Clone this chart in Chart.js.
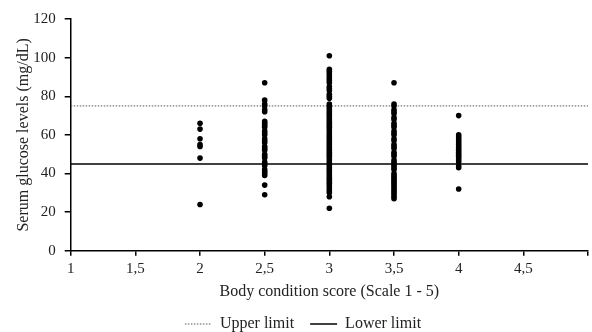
<!DOCTYPE html>
<html lang="en">
<head>
    <meta charset="UTF-8" />
    <title>Serum glucose vs body condition score</title>
    <script src="https://cdn.jsdelivr.net/npm/chart.js"></script>
    <style>
        body { margin: 0; background: #fff; }
        #wrap { width: 592px; height: 332px; }
    </style>
</head>
<body>
    <div id="wrap"><canvas id="glucoseChart"></canvas></div>

    <script>
        // body condition score columns and the glucose readings in each
        const bcsScores = [2, 2.5, 3, 3.5, 4];
        const glucoseBcs2 = [66, 63, 58, 55, 54, 48, 24];
        const glucoseBcs25 = [87, 78, 76, 75, 73, 72, 67, 66, 65, 64, 62, 61, 60, 58, 57, 56, 54, 53, 52, 50, 49, 48, 46, 45, 44, 42, 41, 40, 39, 34, 29];
        const glucoseBcs3 = [101, 94, 93, 92, 91, 90, 89, 88, 87, 85, 84, 83, 81, 80, 79, 76, 75, 74, 73, 72, 71, 70, 69, 68, 67, 66, 65, 64, 63, 62, 61, 60, 59, 58, 57, 56, 55, 54, 53, 52, 51, 50, 49, 48, 47, 46, 45, 44, 43, 42, 41, 40, 39, 38, 37, 36, 35, 34, 33, 32, 31, 30, 28, 22];
        const glucoseBcs35 = [87, 76, 75, 73, 72, 71, 69, 68, 66, 65, 64, 62, 61, 60, 58, 57, 55, 54, 53, 51, 50, 49, 47, 46, 45, 44, 43, 42, 40, 39, 38, 37, 36, 35, 34, 33, 32, 31, 30, 29, 28, 27];
        const glucoseBcs4 = [70, 60, 59, 58, 57, 56, 55, 54, 53, 52, 51, 50, 49, 48, 47, 46, 44, 43, 32];
        const glucoseByScore = [glucoseBcs2, glucoseBcs25, glucoseBcs3, glucoseBcs35, glucoseBcs4];

        // reference limits
        const upperLimit = 75;
        const lowerLimit = 45;
        const xRange = [1, 5];
        const xTicks = [1, 1.5, 2, 2.5, 3, 3.5, 4, 4.5];
        const yRange = [0, 120];

        const points = [];
        bcsScores.forEach((score, i) => {
            glucoseByScore[i].forEach(v => points.push({ x: score, y: v }));
        });

        const serif = "'Liberation Serif', 'DejaVu Serif', serif";
        Chart.defaults.font.family = serif;
        Chart.defaults.color = '#222';

        new Chart(document.getElementById('glucoseChart'), {
            type: 'scatter',
            data: {
                datasets: [
                    {
                        label: 'Glucose',
                        data: points,
                        backgroundColor: '#000',
                        borderWidth: 0,
                        pointRadius: 2.8,
                        order: 1
                    },
                    {
                        type: 'line',
                        label: 'Upper limit',
                        data: xRange.map(x => ({ x: x, y: upperLimit })),
                        borderColor: '#555',
                        borderWidth: 1,
                        borderDash: [1.5, 1.5],
                        pointRadius: 0,
                        order: 2
                    },
                    {
                        type: 'line',
                        label: 'Lower limit',
                        data: xRange.map(x => ({ x: x, y: lowerLimit })),
                        borderColor: '#000',
                        borderWidth: 1.5,
                        pointRadius: 0,
                        order: 2
                    }
                ]
            },
            options: {
                responsive: true,
                maintainAspectRatio: false,
                animation: false,
                layout: { padding: { top: 19, right: 0, left: 14, bottom: -10 } },
                plugins: {
                    tooltip: { enabled: false },
                    legend: {
                        position: 'bottom',
                        labels: {
                            filter: item => item.text !== 'Glucose',
                            usePointStyle: true,
                            pointStyle: 'line',
                            pointStyleWidth: 27,
                            boxHeight: 10,
                            padding: 8,
                            color: '#222',
                            font: { size: 16 },
                            // trailing spaces widen the gap between the two entries
                            generateLabels: chart => chart.data.datasets.map((ds, i) => ({
                                text: i === 1 ? ds.label + '  ' : ds.label,
                                datasetIndex: i,
                                strokeStyle: ds.borderColor,
                                fillStyle: ds.borderColor,
                                lineWidth: ds.borderWidth,
                                lineDash: ds.borderDash || [],
                                pointStyle: 'line',
                                hidden: false,
                                fontColor: '#222'
                            }))
                        }
                    }
                },
                scales: {
                    x: {
                        type: 'linear',
                        min: xRange[0],
                        max: xRange[1],
                        afterBuildTicks: axis => { axis.ticks = xTicks.concat([5]).map(v => ({ value: v })); },
                        ticks: {
                            autoSkip: false,
                            maxRotation: 0,
                            padding: 4,
                            font: { size: 15 },
                            callback: v => v === 5 ? '' : String(v).replace('.', ',')
                        },
                        grid: { drawOnChartArea: false, drawTicks: true, tickLength: 5, color: '#000', lineWidth: 1.5 },
                        border: { color: '#000', width: 1.5 },
                        title: { display: true, text: 'Body condition score (Scale 1 - 5)', font: { size: 16 }, padding: { top: 0, bottom: 7 } }
                    },
                    y: {
                        min: yRange[0],
                        max: yRange[1],
                        ticks: { stepSize: 20, padding: 9, font: { size: 15 } },
                        grid: { drawOnChartArea: false, drawTicks: true, tickLength: 6, color: '#000', lineWidth: 1.5 },
                        border: { color: '#000', width: 1.5 },
                        title: { display: true, text: 'Serum glucose levels (mg/dL)', font: { size: 16 }, padding: { top: 0, bottom: -9 } }
                    }
                }
            }
        });
    </script>
</body>
</html>
